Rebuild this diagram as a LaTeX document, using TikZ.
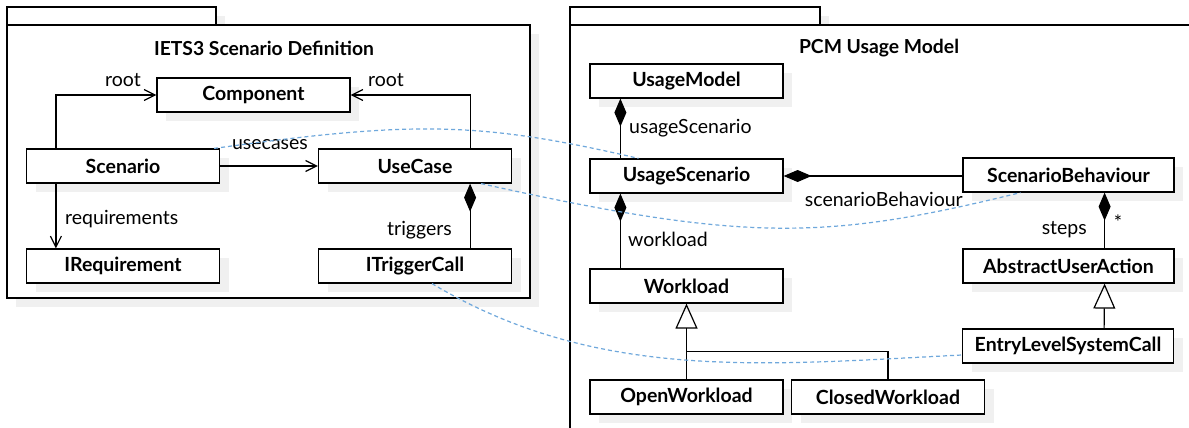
\documentclass[tikz,border=0pt]{standalone}
\usepackage{fontspec}
\setmainfont{Lato}
\usetikzlibrary{arrows.meta,shadows}
\definecolor{shadowgray}{HTML}{F0F0F0}
\definecolor{tracecol}{HTML}{6FA8DC}
\tikzset{
  cls/.style={draw, fill=white, line width=1.2pt, inner sep=0pt,
    minimum width=193pt, minimum height=34pt,
    font=\fontsize{19.5}{21}\selectfont\bfseries,
    drop shadow={shadow xshift=9pt, shadow yshift=-9pt, fill=shadowgray, opacity=1}},
  wide/.style={minimum width=211pt},
  link/.style={line width=1.2pt},
  assoc/.style={link, -{Straight Barb[length=11pt,width=11pt]}},
  compo/.style={link, {Diamond[length=28pt,width=12pt]}-},
  gen/.style={link, -{Triangle[open,length=25pt,width=22pt]}},
  lbl/.style={font=\fontsize{19.5}{21}\selectfont, inner sep=0pt},
  title/.style={font=\fontsize{19.3}{21}\selectfont\bfseries, inner sep=0pt},
  tracelink/.style={draw=tracecol, line width=1.2pt, dash pattern=on 4pt off 3pt},
  pkg/.style={draw, fill=white, line width=1.2pt},
}
\begin{document}
\begin{tikzpicture}[x=1pt, y=-1pt]
\useasboundingbox (0,0) rectangle (1189,428);
\fill[white] (0,0) rectangle (1189,428);
\clip (0,0) rectangle (1189,428);

% package: IETS3 Scenario Definition
\fill[shadowgray] (16,16) rectangle (225,34);
\fill[shadowgray] (16,34) rectangle (539,307);
\draw[pkg] (7,7) rectangle (216,25);
\draw[pkg] (7,25) rectangle (530,298);
\node[title] (t1) at (264,48) {IETS3 Scenario Definition};

% package: PCM Usage Model
\fill[shadowgray] (579,16) rectangle (829,34);
\fill[shadowgray] (579,34) rectangle (1210,450);
\draw[pkg] (570,7) rectangle (820,25);
\draw[pkg] (570,25) rectangle (1200,450);
\node[title] (t2) at (879,48) {PCM Usage Model};

% classes
\node[cls] (comp) at (253.5,95) {Component};
\node[cls] (sc) at (123,166) {Scenario};
\node[cls] (uc) at (415,166) {UseCase};
\node[cls] (ir) at (123,266) {IRequirement};
\node[cls] (tc) at (415,266) {ITriggerCall};

\node[cls] (um) at (686.5,81) {UsageModel};
\node[cls] (us) at (686.5,176) {UsageScenario};
\node[cls] (wl) at (686.5,286) {Workload};
\node[cls] (ow) at (686.5,397) {OpenWorkload};
\node[cls] (cw) at (888,397) {ClosedWorkload};
\node[cls, wide] (sb) at (1068.5,175) {ScenarioBehaviour};
\node[cls, wide] (aua) at (1068.5,266) {AbstractUserAction};
\node[cls, wide] (elsc) at (1068,346) {EntryLevelSystemCall};

% associations
\draw[assoc] ([xshift=30pt]sc.north west) |- (comp.west);
\draw[assoc] ([xshift=-42pt]uc.north east) |- (comp.east);
\draw[assoc] (sc.east) -- (uc.west);
\draw[assoc] ([xshift=30pt]sc.south west) -- ([xshift=30pt]ir.north west);
\draw[compo] ([xshift=-42pt]uc.south east) -- ([xshift=-42pt]tc.north east);

\draw[compo] ([xshift=31pt]um.south west) -- ([xshift=31pt]us.north west);
\draw[compo] (us.east) -- (us.east -| sb.west);
\draw[compo] ([xshift=31pt]us.south west) -- ([xshift=31pt]wl.north west);
\draw[compo] ([xshift=-70pt]sb.south east) -- ([xshift=-70pt]aua.north east);
\draw[gen] ([xshift=-70pt]elsc.north east) -- ([xshift=-70pt]aua.south east);
\draw[gen] (ow.north) -- (wl.south);
\draw[link] (cw.north) |- ([yshift=-48pt]wl.south);

% role names
\node[lbl] (r1) at (123,80) {root};
\node[lbl] (r2) at (386,80) {root};
\node[lbl] (r3) at (270,145) {usecases};
\node[lbl, anchor=west] (r4) at (65,219) {requirements};
\node[lbl, anchor=east] (r5) at (452,230) {triggers};
\node[lbl, anchor=west] (r6) at (629,128) {usageScenario};
\node[lbl, anchor=east] (r7) at (963,199) {scenarioBehaviour};
\node[lbl, anchor=west] (r8) at (628,239) {workload};
\node[lbl, anchor=east] (r9) at (1087,230) {steps};
\node[lbl] (r10) at (1118,222) {*};

% trace links
\draw[tracelink] ([xshift=-6pt]sc.north east) .. controls (413,121) and (478,121) .. ([xshift=-48pt]us.north);
\draw[tracelink] ([xshift=-31pt]uc.south east) .. controls (747,243) and (828,240) .. ([xshift=-48pt]sb.south);
\draw[tracelink] ([xshift=17pt]tc.south) .. controls (597,382) and (763,365) .. ([yshift=-9pt]elsc.west);
\end{tikzpicture}
\end{document}
